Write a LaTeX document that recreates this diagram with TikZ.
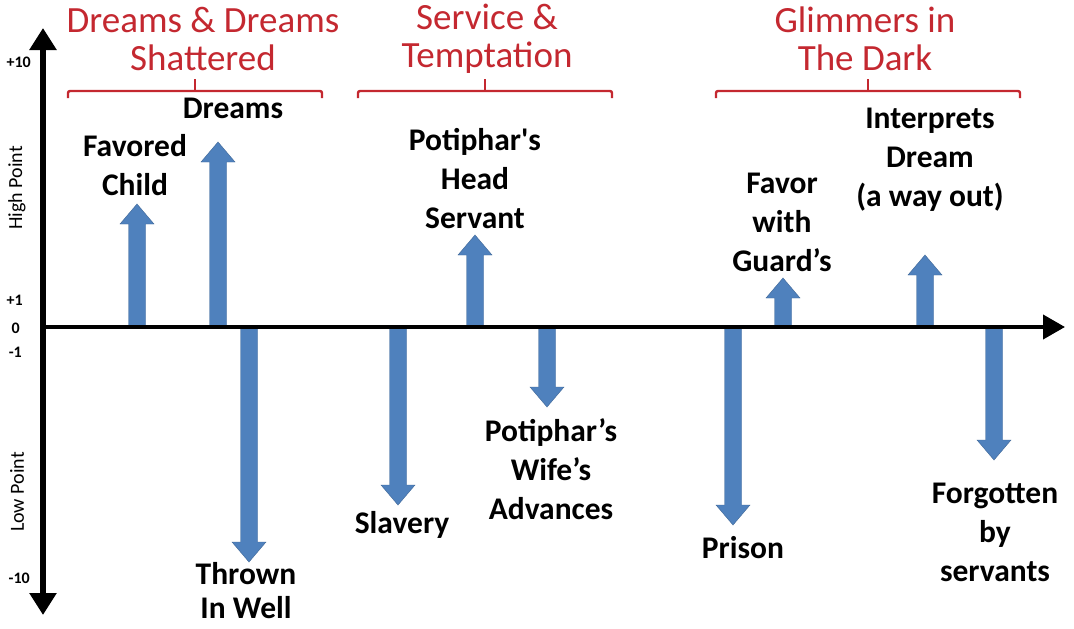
\documentclass[tikz,border=0pt]{standalone}
\usepackage{fontspec}
\setmainfont{Carlito}[Ligatures=TeXOff]
\usetikzlibrary{arrows.meta}
\definecolor{hred}{RGB}{196,40,48}
\definecolor{ablue}{RGB}{79,129,189}
\tikzset{
  blk/.style={fill=ablue, draw=ablue!80!black, line width=0.4pt},
  lbl/.style={font=\bfseries\fontsize{31.5}{39}\selectfont, align=center, text=black, inner sep=0pt},
  head/.style={font=\fontsize{37}{38}\selectfont, align=center, text=hred, inner sep=0pt},
  brk/.style={draw=hred, line width=2.4pt, rounded corners=2pt},
  axl/.style={font=\bfseries\fontsize{16}{16}\selectfont, inner sep=0pt},
  axt/.style={font=\fontsize{20}{20}\selectfont, inner sep=0pt, rotate=90},
  axis/.style={line width=4pt, draw=black}
}
\newcommand\uarr[2]{%
  \fill[blk] (#1-8.5,327) -- (#1-8.5,#2+20) -- (#1-17,#2+20) -- (#1,#2) -- (#1+17,#2+20) -- (#1+8.5,#2+20) -- (#1+8.5,327) -- cycle;}
\newcommand\darr[2]{%
  \fill[blk] (#1-8.5,329) -- (#1-8.5,#2-20) -- (#1-17,#2-20) -- (#1,#2) -- (#1+17,#2-20) -- (#1+8.5,#2-20) -- (#1+8.5,329) -- cycle;}
\newcommand\redbrace[3]{%
  \draw[brk] (#1,98) -- (#1,91) -- (#3,91) -- (#3,98);
  \draw[brk] (#2,91) -- (#2,79);}
\begin{document}
\begin{tikzpicture}[x=1pt,y=-1pt]
\useasboundingbox (0,0) rectangle (1074,629);
\fill[white] (0,0) rectangle (1074,629);

% block arrows
\uarr{137}{204}
\uarr{218}{142}
\darr{249}{562}
\darr{398}{505}
\uarr{475}{235}
\darr{547}{407}
\darr{733}{525}
\uarr{783}{278}
\uarr{925}{255}
\darr{994}{460}

% axes
\coordinate (o) at (43,327);
\coordinate (xe) at (1065,327);
\coordinate (yt) at (43,28);
\coordinate (yb) at (43,615);
\draw[axis, -{Triangle[width=24pt,length=22pt]}] (o) -- (xe);
\draw[line width=6pt, {Triangle[width=26pt,length=22pt]}-{Triangle[width=26pt,length=22pt]}] (yb) -- (yt);

% axis labels
\node[axl, anchor=east] (p10) at (31,62) {+10};
\node[axl, anchor=east] (p1) at (23,300) {+1};
\node[axl, anchor=east] (z0) at (20,328) {0};
\node[axl, anchor=east] (m1) at (22,352) {-1};
\node[axl, anchor=east] (m10) at (30,578) {-10};
\node[axt] (hp) at (17,188) {High Point};
\node[axt] (lp) at (17,492) {Low Point};

% headings
\node[head] (h1) at (203,39) {Dreams \& Dreams\\Shattered};
\node[head] (h2) at (487,39) {Service \&\\Temptation};
\node[head] (h3) at (865,39) {Glimmers in\\The Dark};
\redbrace{68}{195}{322}
\redbrace{358}{485}{612}
\redbrace{716}{868}{1020}

% labels
\node[lbl] (l1) at (135,165) {Favored\\Child};
\node[lbl] (l2) at (233,108) {Dreams};
\node[lbl, font=\bfseries\fontsize{31.5}{34}\selectfont] (l3) at (246,591) {Thrown\\In Well};
\node[lbl] (l4) at (402,525) {Slavery};
\node[lbl] (l5) at (475,179) {Potiphar's\\Head\\Servant};
\node[lbl] (l6) at (551,469) {Potiphar’s\\Wife’s\\Advances};
\node[lbl] (l7) at (743,548) {Prison};
\node[lbl] (l8) at (782,222) {Favor\\with\\Guard’s};
\node[lbl] (l9) at (930,160) {Interprets\\Dream\\(a way out)};
\node[lbl] (l10) at (995,532) {Forgotten\\by\\servants};
\end{tikzpicture}
\end{document}
